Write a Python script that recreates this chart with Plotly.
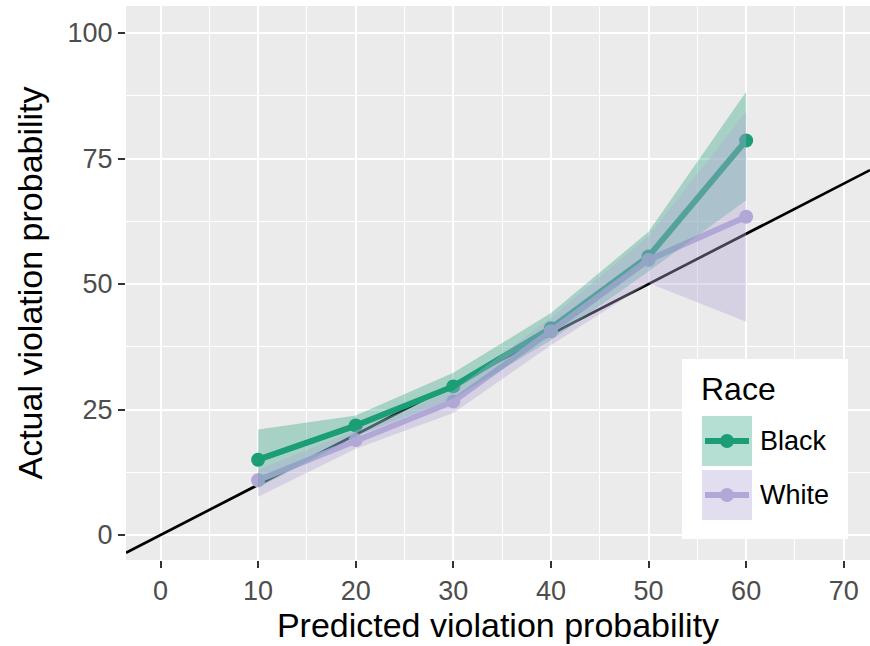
import plotly.graph_objects as go

# Calibration data: predicted vs. actual violation probability (%) by race
predicted = [10, 20, 30, 40, 50, 60]

black_actual = [15.0, 21.8, 29.6, 41.2, 55.5, 78.6]
black_lower = [9.4, 19.6, 27.2, 38.8, 52.5, 66.7]
black_upper = [21.0, 23.8, 32.3, 44.2, 60.4, 88.3]

white_actual = [10.9, 18.9, 26.6, 40.6, 54.8, 63.4]
white_lower = [7.6, 17.2, 24.3, 37.8, 50.2, 42.5]
white_upper = [13.0, 20.8, 28.8, 43.3, 59.5, 84.3]

x_ticks = [0, 10, 20, 30, 40, 50, 60, 70]
y_ticks = [0, 25, 50, 75, 100]
x_range = [-3.535, 72.69]
y_range = [-4.98, 105.38]

GREEN = "#1b9e77"
PURPLE = "#b2a8d8"
GREEN_FILL = "rgba(27,158,119,0.33)"
PURPLE_FILL = "rgba(178,168,216,0.38)"
FONT = "Liberation Sans, Arial, Helvetica, sans-serif"

W, H = 870, 646
L, R, T, B = 126, 0, 6, 86

fig = go.Figure()

# identity reference line y = x across the full panel
fig.add_trace(go.Scatter(
    x=x_range, y=x_range, mode="lines",
    line=dict(color="black", width=2.7), hoverinfo="skip", showlegend=False,
))

# observed rates
for name, ys, col in [("Black", black_actual, GREEN), ("White", white_actual, PURPLE)]:
    fig.add_trace(go.Scatter(
        x=predicted, y=ys, mode="lines+markers", name=name,
        line=dict(color=col, width=6),
        marker=dict(color=col, size=14),
        showlegend=False,
    ))

# confidence ribbons
for name, lo, hi, fc in [("Black", black_lower, black_upper, GREEN_FILL),
                         ("White", white_lower, white_upper, PURPLE_FILL)]:
    fig.add_trace(go.Scatter(
        x=predicted + predicted[::-1], y=hi + lo[::-1],
        fill="toself", fillcolor=fc, mode="lines",
        line=dict(width=0, color="rgba(0,0,0,0)"),
        hoverinfo="skip", showlegend=False,
    ))

axis_common = dict(
    showgrid=True, gridcolor="white", gridwidth=1.9,
    zeroline=False, showline=False,
    ticks="outside", ticklen=7, tickwidth=2.2, tickcolor="#333333",
    tickfont=dict(family=FONT, size=27, color="#4d4d4d"),
)

fig.update_xaxes(
    range=x_range, tickvals=x_ticks, **axis_common,
    minor=dict(tickvals=[5, 15, 25, 35, 45, 55, 65], showgrid=True,
               gridcolor="white", gridwidth=1.0, ticks=""),
    title=dict(text="Predicted violation probability",
               font=dict(family=FONT, size=34, color="black"), standoff=6),
)
fig.update_yaxes(
    range=y_range, tickvals=y_ticks, **axis_common,
    minor=dict(tickvals=[12.5, 37.5, 62.5, 87.5], showgrid=True,
               gridcolor="white", gridwidth=1.0, ticks=""),
    title=dict(text="Actual violation probability",
               font=dict(family=FONT, size=34, color="black"), standoff=14),
)


def px_x(p):
    return (p - L) / (W - L - R)


def px_y(p):
    return (H - B - p) / (H - T - B)


shapes = []
annotations = []

# legend box
shapes.append(dict(type="rect", xref="paper", yref="paper",
                   x0=px_x(682), x1=px_x(848), y0=px_y(539), y1=px_y(359),
                   fillcolor="white", line=dict(width=0), layer="above"))
annotations.append(dict(text="Race", xref="paper", yref="paper",
                        x=px_x(699), y=px_y(389), xanchor="left", yanchor="middle",
                        showarrow=False, font=dict(family=FONT, size=32, color="black")))

for i, (name, col, fc) in enumerate([("Black", GREEN, GREEN_FILL), ("White", PURPLE, PURPLE_FILL)]):
    top = 416 + i * 54
    cy = top + 25
    shapes.append(dict(type="rect", xref="paper", yref="paper",
                       x0=px_x(702), x1=px_x(752), y0=px_y(top + 50), y1=px_y(top),
                       fillcolor=fc, line=dict(width=0), layer="above"))
    shapes.append(dict(type="line", xref="paper", yref="paper",
                       x0=px_x(705), x1=px_x(749), y0=px_y(cy), y1=px_y(cy),
                       line=dict(color=col, width=6), layer="above"))
    shapes.append(dict(type="circle", xref="paper", yref="paper",
                       x0=px_x(720), x1=px_x(734), y0=px_y(cy + 7), y1=px_y(cy - 7),
                       fillcolor=col, line=dict(width=0), layer="above"))
    annotations.append(dict(text=name, xref="paper", yref="paper",
                            x=px_x(758), y=px_y(cy), xanchor="left", yanchor="middle",
                            showarrow=False, font=dict(family=FONT, size=27, color="black")))

fig.update_layout(
    width=W, height=H,
    margin=dict(l=L, r=R, t=T, b=B),
    paper_bgcolor="white", plot_bgcolor="#ebebeb",
    shapes=shapes, annotations=annotations,
    showlegend=False,
)

fig.write_html("out.html")
